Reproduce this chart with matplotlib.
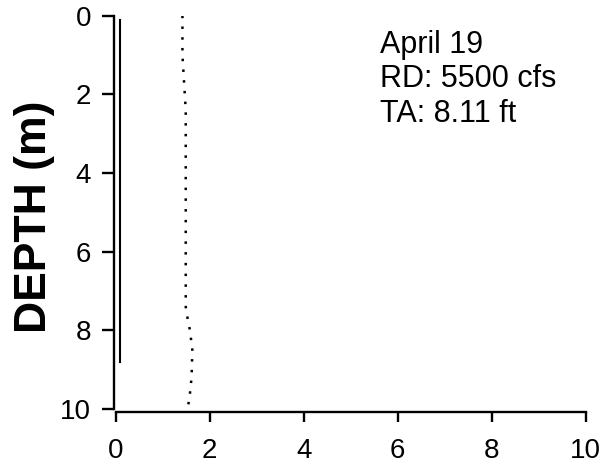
import numpy as np
import matplotlib.pyplot as plt

plt.rcParams['font.family'] = ['Liberation Sans', 'DejaVu Sans']

# solid profile (x vs depth)
solid_depth = [0.1, 2.0, 4.0, 6.0, 8.0, 8.8]
solid_x = [0.09, 0.09, 0.09, 0.09, 0.09, 0.09]

# dotted profile (x vs depth)
dot_depth = [0.0, 1.0, 1.8, 2.4, 4.0, 5.0, 6.0, 7.4, 7.7, 8.0, 8.5, 9.0, 9.4, 9.7, 10.0]
dot_x = [1.42, 1.42, 1.46, 1.49, 1.49, 1.49, 1.49, 1.49, 1.53, 1.58, 1.63, 1.62, 1.60, 1.57, 1.53]

xticks = [0, 2, 4, 6, 8, 10]
yticks = [0, 2, 4, 6, 8, 10]
note = "April 19\nRD: 5500 cfs\nTA: 8.11 ft"

fig = plt.figure(figsize=(6.07, 4.66), dpi=100)
ax = fig.add_axes([0.1906, 0.1223, 0.7744, 0.844])

ax.plot(solid_x, solid_depth, color='black', lw=1.5)
ax.plot(dot_x, dot_depth, color='black', lw=1.8, linestyle=(0, (1, 3.3)))

ax.set_xlim(0, 10)
ax.set_ylim(10, 0)
ax.set_xticks(xticks)
ax.set_yticks(yticks)

for s in ['top', 'right']:
    ax.spines[s].set_visible(False)
ax.spines['left'].set_position(('outward', 1.3))
ax.spines['bottom'].set_position(('outward', 1.8))
for s in ['left', 'bottom']:
    ax.spines[s].set_linewidth(1.7)
ax.tick_params(direction='out', width=1.7, labelsize=20)
ax.tick_params(axis='x', length=7, pad=12.3)
ax.tick_params(axis='y', length=8.5, pad=8)

ax.set_ylabel('DEPTH (m)', fontsize=32, fontweight='bold')
ax.yaxis.set_label_coords(-0.129, 0.49)

ax.text(5.62, 0.36, note, fontsize=22, va='top', ha='left', linespacing=1.2)

fig.savefig('out.png', dpi=100)
